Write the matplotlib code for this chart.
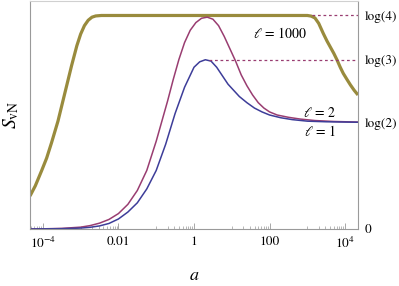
import numpy as np
import matplotlib
matplotlib.use("Agg")
import matplotlib.pyplot as plt
from matplotlib.ticker import FixedLocator, NullFormatter

plt.rcParams["font.family"] = ["STIXGeneral", "DejaVu Serif"]
plt.rcParams["mathtext.fontset"] = "stix"

# log10(a) and entropy for each curve
loga_l1 = [-4.34, -4.0, -3.5, -3.0, -2.75, -2.5, -2.25, -2.0, -1.75, -1.5,
           -1.25, -1.0, -0.75, -0.5, -0.25, 0.0, 0.15, 0.3, 0.45, 0.6,
           0.75, 0.9, 1.05, 1.2, 1.4, 1.6, 1.8, 2.0, 2.3, 2.6,
           3.0, 3.5, 4.34]
s_l1 = [0.0, 0.001, 0.002, 0.006, 0.011, 0.02, 0.036, 0.065, 0.11, 0.17,
        0.26, 0.38, 0.55, 0.75, 0.92, 1.05, 1.085, 1.0986, 1.09, 1.05,
        0.995, 0.94, 0.90, 0.86, 0.82, 0.785, 0.76, 0.74, 0.722, 0.71,
        0.70, 0.696, 0.693]

loga_l2 = [-4.34, -4.0, -3.5, -3.0, -2.75, -2.5, -2.25, -2.0, -1.75, -1.5,
           -1.25, -1.0, -0.85, -0.7, -0.55, -0.4, -0.25, -0.1, 0.05, 0.2,
           0.35, 0.5, 0.65, 0.8, 0.95, 1.1, 1.25, 1.4, 1.55, 1.7,
           1.85, 2.0, 2.2, 2.5, 2.8, 3.2, 3.7, 4.34]
s_l2 = [0.0, 0.001, 0.004, 0.012, 0.022, 0.038, 0.062, 0.10, 0.16, 0.25,
        0.38, 0.57, 0.70, 0.83, 0.97, 1.10, 1.21, 1.29, 1.34, 1.368,
        1.375, 1.362, 1.32, 1.25, 1.17, 1.09, 1.00, 0.93, 0.87, 0.82,
        0.785, 0.76, 0.74, 0.725, 0.714, 0.704, 0.698, 0.694]

loga_l1000 = [-4.34, -4.2, -4.03, -3.9, -3.77, -3.6, -3.4, -3.24, -3.1, -3.0,
              -2.9, -2.8, -2.7, -2.6, -2.45, 3.0, 3.1, 3.2, 3.3, 3.42,
              3.52, 3.61, 3.7, 3.78, 3.87, 3.95, 4.05, 4.14, 4.24, 4.34]
s_l1000 = [0.214, 0.28, 0.38, 0.46, 0.56, 0.70, 0.90, 1.06, 1.19, 1.265,
           1.32, 1.355, 1.375, 1.383, 1.386, 1.386, 1.382, 1.37, 1.335, 1.27,
           1.22, 1.18, 1.14, 1.10, 1.05, 1.01, 0.97, 0.935, 0.90, 0.87]

x_major = [1e-4, 1e-2, 1, 1e2, 1e4]
x_major_labels = [r"$10^{-4}$", "0.01", "1", "100", r"$10^{4}$"]
right_ticks = [0, np.log(2), np.log(3), np.log(4)]
right_labels = ["0", "log(2)", "log(3)", "log(4)"]

blue = (0.24, 0.24, 0.6)
magenta = (0.6, 0.24, 0.442)
olive = (0.6, 0.547, 0.24)
frame = "#9a9a9a"

fig = plt.figure(figsize=(3.99, 2.86), dpi=100)
ax = fig.add_axes([30 / 399, 1 - 229 / 286, 328 / 399, 228 / 286])

ax.plot(10 ** np.array(loga_l1000), s_l1000, color=olive, lw=2.3,
        solid_capstyle="butt", solid_joinstyle="round")
ax.plot(10 ** np.array(loga_l2), s_l2, color=magenta, lw=1.1,
        solid_joinstyle="round")
ax.plot(10 ** np.array(loga_l1), s_l1, color=blue, lw=1.1,
        solid_joinstyle="round")

# dashed guides
ax.plot([10 ** 0.40, 10 ** 4.34], [np.log(3)] * 2, color=magenta, lw=0.9,
        dashes=(2.2, 2.2))
ax.plot([10 ** 3.12, 10 ** 4.34], [np.log(4)] * 2, color=magenta, lw=0.9,
        dashes=(2.2, 2.2))

ax.set_xscale("log")
ax.set_xlim(10 ** -4.34, 10 ** 4.34)
ax.set_ylim(0, 1.48)

ax.xaxis.set_major_locator(FixedLocator(x_major))
ax.set_xticklabels(x_major_labels)
minors = [m * 10.0 ** k for k in (-5, -3, -1, 1, 3) for m in range(1, 10)]
ax.xaxis.set_minor_locator(FixedLocator(minors))
ax.xaxis.set_minor_formatter(NullFormatter())
ax.tick_params(axis="x", which="major", direction="in", length=4, width=0.6,
               color=frame, labelsize=9.5, pad=5)
ax.tick_params(axis="x", which="minor", direction="in", length=2, width=0.5,
               color=frame)

ax.yaxis.tick_right()
ax.set_yticks(right_ticks)
ax.set_yticklabels(right_labels)
ax.tick_params(axis="y", length=0, labelsize=9.5, pad=5)

for side in ("left", "bottom", "right"):
    ax.spines[side].set_color(frame)
    ax.spines[side].set_linewidth(0.8)
ax.spines["top"].set_color("#d0d0d0")
ax.spines["top"].set_linewidth(0.8)

ax.set_xlabel(r"$a$", fontsize=13)
ax.xaxis.set_label_coords(0.5, -0.17)
ax.set_ylabel(r"$S_{\mathrm{vN}}$", fontsize=14)
ax.yaxis.set_label_position("left")
ax.yaxis.set_label_coords(-0.027, 0.5)

ax.text(10 ** 2.28, 1.27, r"$\ell\, =\, 1000$", fontsize=10,
        ha="center", va="center")
ax.text(10 ** 3.34, 0.755, r"$\ell\, =\, 2$", fontsize=10,
        ha="center", va="center")
ax.text(10 ** 3.34, 0.635, r"$\ell\, =\, 1$", fontsize=10,
        ha="center", va="center")

fig.savefig("out.png", dpi=100)
